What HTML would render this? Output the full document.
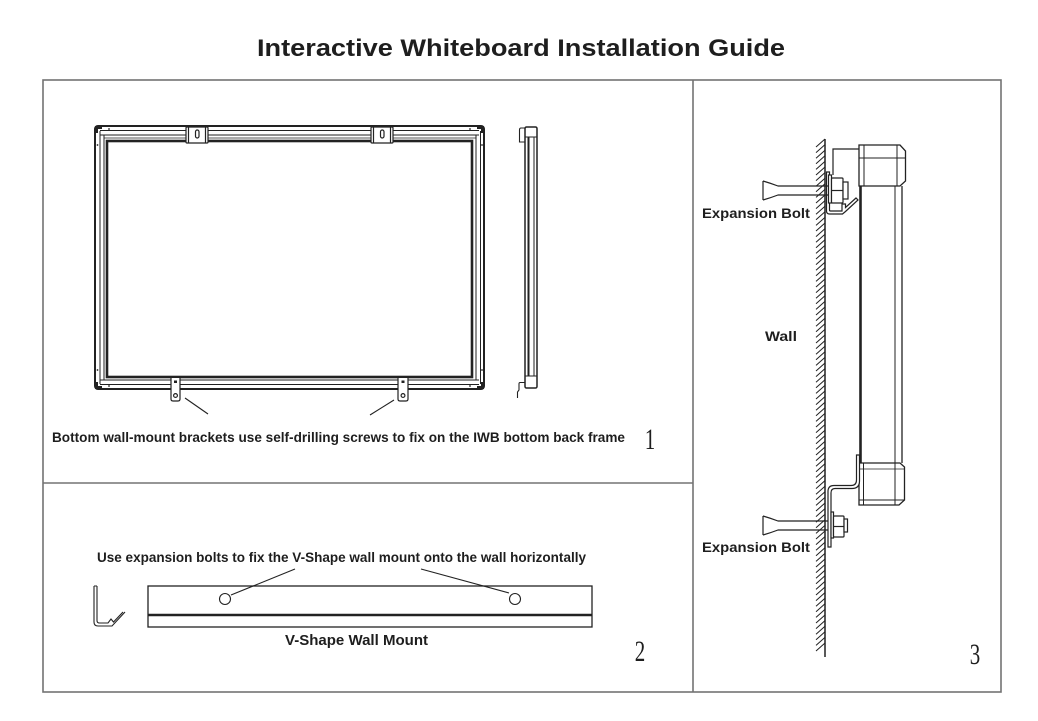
<!DOCTYPE html>
<html>
<head>
<meta charset="utf-8">
<style>
  html,body{margin:0;padding:0;background:#fff;}
  body{width:1038px;height:721px;overflow:hidden;}
  svg{display:block;}
  .lbl{font-family:"Liberation Sans",sans-serif;font-weight:bold;fill:#1e1e1e;}
  .num{font-family:"Liberation Serif",serif;fill:#1e1e1e;}
</style>
</head>
<body>
<svg width="1038" height="721" viewBox="0 0 1038 721" xmlns="http://www.w3.org/2000/svg">
  <rect x="0" y="0" width="1038" height="721" fill="#fff"/>

  <!-- Title -->
  <text class="lbl" x="257" y="56" font-size="24" textLength="528" lengthAdjust="spacingAndGlyphs">Interactive Whiteboard Installation Guide</text>

  <!-- Outer frame & dividers -->
  <g stroke="#737373" stroke-width="1.6" fill="none">
    <rect x="43" y="80" width="958" height="612"/>
    <line x1="693" y1="80" x2="693" y2="692"/>
    <line x1="43" y1="483" x2="693" y2="483"/>
  </g>

  <!-- ================= Panel 1 ================= -->
  <g stroke="#222" fill="none">
    <rect x="95" y="126" width="389" height="263" rx="3" stroke-width="2"/>
    <line x1="100" y1="130.5" x2="479" y2="130.5" stroke-width="1"/>
    <line x1="100" y1="135" x2="479" y2="135" stroke-width="1"/>
    <line x1="100" y1="380" x2="479" y2="380" stroke-width="1"/>
    <line x1="100" y1="384.5" x2="479" y2="384.5" stroke-width="1"/>
    <line x1="100" y1="131" x2="100" y2="384" stroke-width="1"/>
    <line x1="104" y1="135" x2="104" y2="380" stroke-width="1"/>
    <line x1="476" y1="135" x2="476" y2="380" stroke-width="1"/>
    <line x1="480.5" y1="131" x2="480.5" y2="384" stroke-width="1"/>
    <rect x="107" y="141" width="365" height="236" stroke-width="2.6"/>
    <line x1="104" y1="138" x2="476" y2="138" stroke-width="0.8"/>
  </g>
  <g fill="#222">
    <path d="M95,126 h7 v3 h-4 v4 h-3 z"/>
    <path d="M484,126 h-7 v3 h4 v4 h3 z"/>
    <path d="M95,389 h7 v-3 h-4 v-4 h-3 z"/>
    <path d="M484,389 h-7 v-3 h4 v-4 h3 z"/>
    <circle cx="109" cy="129" r="0.9"/><circle cx="470" cy="129" r="0.9"/>
    <circle cx="109" cy="386" r="0.9"/><circle cx="470" cy="386" r="0.9"/>
    <circle cx="97.5" cy="145" r="0.9"/><circle cx="97.5" cy="370" r="0.9"/>
    <circle cx="482" cy="145" r="0.9"/><circle cx="482" cy="370" r="0.9"/>
  </g>
  <g stroke="#222" stroke-width="1.2" fill="#fff">
    <rect x="186" y="127" width="22" height="16" rx="1"/>
    <line x1="188.5" y1="127" x2="188.5" y2="143"/>
    <line x1="205.5" y1="127" x2="205.5" y2="143"/>
    <rect x="195.5" y="130" width="3.5" height="8" rx="1.7"/>
    <rect x="371" y="127" width="22" height="16" rx="1"/>
    <line x1="373.5" y1="127" x2="373.5" y2="143"/>
    <line x1="390.5" y1="127" x2="390.5" y2="143"/>
    <rect x="380.5" y="130" width="3.5" height="8" rx="1.7"/>
  </g>
  <g stroke="#222" stroke-width="1.2" fill="#fff">
    <path d="M171,378 V399 Q171,401 173,401 H178 Q180,401 180,399 V378"/>
    <circle cx="175.5" cy="395.5" r="1.9"/>
    <path d="M398,378 V399 Q398,401 400,401 H406 Q408,401 408,399 V378"/>
    <circle cx="403" cy="395.5" r="1.9"/>
  </g>
  <g fill="#222">
    <rect x="174" y="380.5" width="3" height="2.5"/>
    <rect x="401.5" y="380.5" width="3" height="2.5"/>
  </g>
  <g stroke="#222" stroke-width="1.1">
    <line x1="185" y1="398" x2="208" y2="414"/>
    <line x1="394" y1="400" x2="370" y2="415"/>
  </g>
  <g stroke="#222" fill="none">
    <rect x="525" y="127" width="12" height="261" rx="1.5" stroke-width="1.5"/>
    <line x1="528.5" y1="137" x2="528.5" y2="376" stroke-width="2"/>
    <line x1="534" y1="137" x2="534" y2="376" stroke-width="1"/>
    <line x1="525" y1="137" x2="537" y2="137" stroke-width="1"/>
    <line x1="525" y1="376" x2="537" y2="376" stroke-width="1"/>
    <path d="M525,128 H521 Q519.5,128 519.5,130 V142 H525" stroke-width="1.1"/>
    <path d="M525,382.5 H520 Q519,382.5 519,384 V390 L517.5,392 V398" stroke-width="1.1"/>
  </g>

  <text class="lbl" x="52" y="442" font-size="13.5" textLength="573" lengthAdjust="spacingAndGlyphs">Bottom wall-mount brackets use self-drilling screws to fix on the IWB bottom back frame</text>
  <text class="num" transform="translate(650,449) scale(0.7,1)" text-anchor="middle" font-size="30">1</text>

  <!-- ================= Panel 2 ================= -->
  <text class="lbl" x="97" y="562" font-size="13.5" textLength="489" lengthAdjust="spacingAndGlyphs">Use expansion bolts to fix the V-Shape wall mount onto the wall horizontally</text>
  <g stroke="#222" fill="none">
    <rect x="148" y="586" width="444" height="41" stroke-width="1.3"/>
    <line x1="148" y1="615" x2="592" y2="615" stroke-width="2.6"/>
    <circle cx="225" cy="599" r="5.5" stroke-width="1.1"/>
    <circle cx="515" cy="599" r="5.5" stroke-width="1.1"/>
    <line x1="231" y1="595" x2="295" y2="569" stroke-width="1.1"/>
    <line x1="421" y1="569" x2="509" y2="593" stroke-width="1.1"/>
    <path d="M94,586 V622 Q94,626 98,626 H112 L125,612" stroke-width="1.1"/>
    <path d="M97,586 V620.5 Q97,623 99.5,623 H108 L111,619 L113.5,622 L123,612" stroke-width="1.1"/>
    <line x1="94" y1="586" x2="97" y2="586" stroke-width="1"/>
  </g>
  <text class="lbl" x="285" y="645" font-size="15" textLength="143" lengthAdjust="spacingAndGlyphs">V-Shape Wall Mount</text>
  <text class="num" transform="translate(640,661) scale(0.7,1)" text-anchor="middle" font-size="30">2</text>

  <!-- ================= Panel 3 ================= -->
  <g stroke="#222" fill="none">
    <line x1="825" y1="139" x2="825" y2="657" stroke-width="1.5"/>
    <path stroke-width="1" d="M816,147 l9,-8 m-9,13.6l9,-8 m-9,13.6l9,-8 m-9,13.6l9,-8 m-9,13.6l9,-8 m-9,13.6l9,-8 m-9,13.6l9,-8 m-9,13.6l9,-8 m-9,13.6l9,-8 m-9,13.6l9,-8 m-9,13.6l9,-8 m-9,13.6l9,-8 m-9,13.6l9,-8 m-9,13.6l9,-8 m-9,13.6l9,-8 m-9,13.6l9,-8 m-9,13.6l9,-8 m-9,13.6l9,-8 m-9,13.6l9,-8 m-9,13.6l9,-8 m-9,13.6l9,-8 m-9,13.6l9,-8 m-9,13.6l9,-8 m-9,13.6l9,-8 m-9,13.6l9,-8 m-9,13.6l9,-8 m-9,13.6l9,-8 m-9,13.6l9,-8 m-9,13.6l9,-8 m-9,13.6l9,-8 m-9,13.6l9,-8 m-9,13.6l9,-8 m-9,13.6l9,-8 m-9,13.6l9,-8 m-9,13.6l9,-8 m-9,13.6l9,-8 m-9,13.6l9,-8 m-9,13.6l9,-8 m-9,13.6l9,-8 m-9,13.6l9,-8 m-9,13.6l9,-8 m-9,13.6l9,-8 m-9,13.6l9,-8 m-9,13.6l9,-8 m-9,13.6l9,-8 m-9,13.6l9,-8 m-9,13.6l9,-8 m-9,13.6l9,-8 m-9,13.6l9,-8 m-9,13.6l9,-8 m-9,13.6l9,-8 m-9,13.6l9,-8 m-9,13.6l9,-8 m-9,13.6l9,-8 m-9,13.6l9,-8 m-9,13.6l9,-8 m-9,13.6l9,-8 m-9,13.6l9,-8 m-9,13.6l9,-8 m-9,13.6l9,-8 m-9,13.6l9,-8 m-9,13.6l9,-8 m-9,13.6l9,-8 m-9,13.6l9,-8 m-9,13.6l9,-8 m-9,13.6l9,-8 m-9,13.6l9,-8 m-9,13.6l9,-8 m-9,13.6l9,-8 m-9,13.6l9,-8 m-9,13.6l9,-8 m-9,13.6l9,-8 m-9,13.6l9,-8 m-9,13.6l9,-8 m-9,13.6l9,-8 m-9,13.6l9,-8 m-9,13.6l9,-8 m-9,13.6l9,-8 m-9,13.6l9,-8 m-9,13.6l9,-8 m-9,13.6l9,-8 m-9,13.6l9,-8 m-9,13.6l9,-8 m-9,13.6l9,-8 m-9,13.6l9,-8 m-9,13.6l9,-8 m-9,13.6l9,-8 m-9,13.6l9,-8 m-9,13.6l9,-8 m-9,13.6l9,-8 m-9,13.6l9,-8"/>
  </g>

  <g stroke="#222" fill="none">
    <path d="M859,145 H900 L905.5,151 V181 L900,186 H859 Z" stroke-width="1.3" fill="#fff"/>
    <line x1="864" y1="145" x2="864" y2="186" stroke-width="1"/>
    <line x1="897" y1="145" x2="897" y2="186" stroke-width="1"/>
    <line x1="859" y1="158" x2="905.5" y2="158" stroke-width="1"/>
    <path d="M833,175 V149 H859" stroke-width="1.2"/>
    <line x1="860.5" y1="186" x2="860.5" y2="463" stroke-width="2.6"/>
    <line x1="895" y1="186" x2="895" y2="463" stroke-width="1"/>
    <line x1="902" y1="186" x2="902" y2="463" stroke-width="1.3"/>
    <path d="M859,463 H900 L904.5,467 V500 L899,505 H859 Z" stroke-width="1.3" fill="#fff"/>
    <line x1="863.5" y1="463" x2="863.5" y2="505" stroke-width="1"/>
    <line x1="895" y1="463" x2="895" y2="505" stroke-width="1"/>
    <line x1="859" y1="500" x2="904" y2="500" stroke-width="1"/>
    <line x1="859" y1="469" x2="904" y2="469" stroke-width="0.8"/>
  </g>

  <g stroke="#222" fill="#fff" stroke-width="1.2">
    <path d="M826.5,172 V211 Q826.5,214 829.5,214 H842.5 L845.5,211.5 L858,200 L856,198 L845.5,207.5 V204 H842 V211 H830.5 Q829.5,211 829.5,210 V172 Z"/>
    <rect x="828.5" y="175" width="3" height="28"/>
    <rect x="831.5" y="178" width="11.5" height="25" rx="1"/>
    <line x1="831.5" y1="190.5" x2="843" y2="190.5"/>
    <rect x="843" y="182" width="5" height="17"/>
    <path d="M763,181 V200 M763,181 Q770,183 778,186 H828.5 M763,200 Q770,198 778,195 H828.5" fill="none"/>
  </g>

  <g stroke="#222" fill="none" stroke-width="1.2">
    <path d="M856.5,455 V480 Q856.5,485.5 851,485.5 H834 Q828,485.5 828,491.5 V547 H831 V493 Q831,488.5 835,488.5 H852 Q859.5,488.5 859.5,481 V455 Z" fill="#fff"/>
    <rect x="831" y="512" width="2.5" height="26" fill="#fff"/>
    <rect x="833.5" y="516" width="10.5" height="21" rx="1" fill="#fff"/>
    <line x1="833.5" y1="526.5" x2="844" y2="526.5"/>
    <rect x="844" y="519" width="3.5" height="13" fill="#fff"/>
    <path d="M763,516 V535 M763,516 Q770,518 778,521 H828 M763,535 Q770,533 778,530 H828"/>
  </g>

  <text class="lbl" x="702" y="218" font-size="14" textLength="108" lengthAdjust="spacingAndGlyphs">Expansion Bolt</text>
  <text class="lbl" x="702" y="552" font-size="14" textLength="108" lengthAdjust="spacingAndGlyphs">Expansion Bolt</text>
  <text class="lbl" x="765" y="341" font-size="14" textLength="32" lengthAdjust="spacingAndGlyphs">Wall</text>
  <text class="num" transform="translate(975,664) scale(0.7,1)" text-anchor="middle" font-size="30">3</text>
</svg>
</body>
</html>
